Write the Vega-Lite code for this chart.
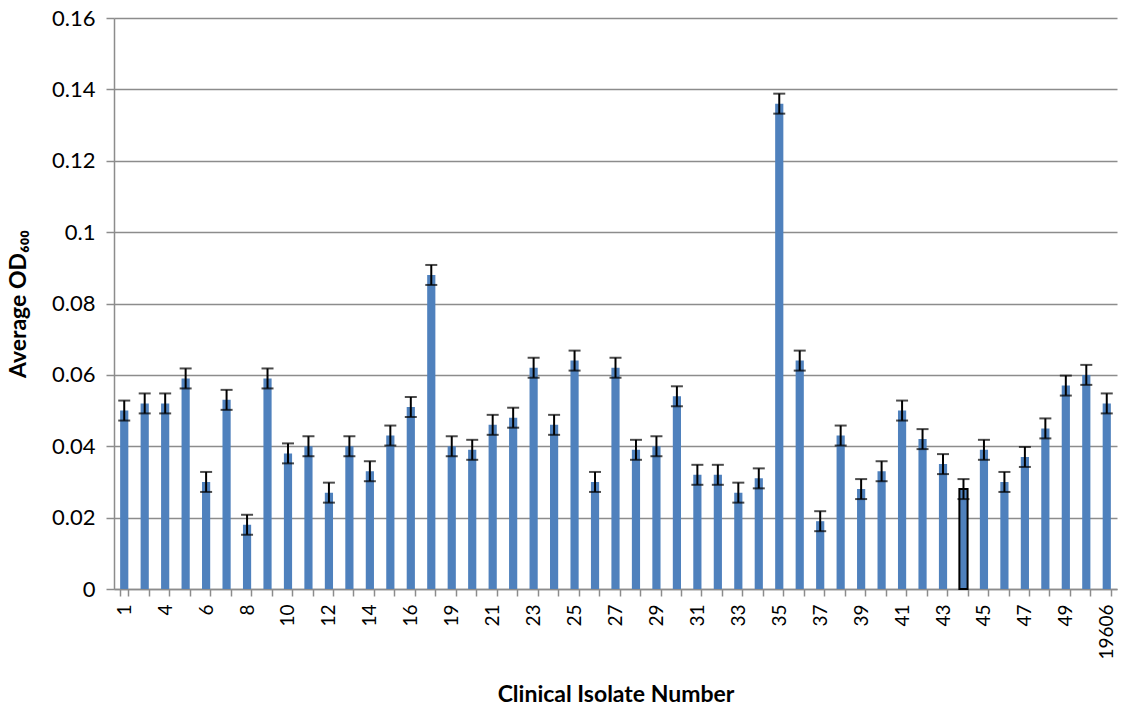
{
  "$schema": "https://vega.github.io/schema/vega-lite/v6.json",
  "width": 1003,
  "height": 571,
  "autosize": {"type": "none"},
  "padding": {"left": 114, "top": 18, "right": 8, "bottom": 123},
  "background": "white",
  "config": {"view": {"stroke": null}, "font": "Lato"},
  "data": {
    "values": [
      {"isolate": "1", "od": 0.050, "err": 0.0028},
      {"isolate": "2", "od": 0.052, "err": 0.0028},
      {"isolate": "4", "od": 0.052, "err": 0.0028},
      {"isolate": "5", "od": 0.059, "err": 0.0028},
      {"isolate": "6", "od": 0.030, "err": 0.0028},
      {"isolate": "7", "od": 0.053, "err": 0.0028},
      {"isolate": "8", "od": 0.018, "err": 0.0028},
      {"isolate": "9", "od": 0.059, "err": 0.0028},
      {"isolate": "10", "od": 0.038, "err": 0.0028},
      {"isolate": "11", "od": 0.040, "err": 0.0028},
      {"isolate": "12", "od": 0.027, "err": 0.0028},
      {"isolate": "13", "od": 0.040, "err": 0.0028},
      {"isolate": "14", "od": 0.033, "err": 0.0028},
      {"isolate": "15", "od": 0.043, "err": 0.0028},
      {"isolate": "16", "od": 0.051, "err": 0.0028},
      {"isolate": "17", "od": 0.088, "err": 0.0028},
      {"isolate": "19", "od": 0.040, "err": 0.0028},
      {"isolate": "20", "od": 0.039, "err": 0.0028},
      {"isolate": "21", "od": 0.046, "err": 0.0028},
      {"isolate": "22", "od": 0.048, "err": 0.0028},
      {"isolate": "23", "od": 0.062, "err": 0.0028},
      {"isolate": "24", "od": 0.046, "err": 0.0028},
      {"isolate": "25", "od": 0.064, "err": 0.0028},
      {"isolate": "26", "od": 0.030, "err": 0.0028},
      {"isolate": "27", "od": 0.062, "err": 0.0028},
      {"isolate": "28", "od": 0.039, "err": 0.0028},
      {"isolate": "29", "od": 0.040, "err": 0.0028},
      {"isolate": "30", "od": 0.054, "err": 0.0028},
      {"isolate": "31", "od": 0.032, "err": 0.0028},
      {"isolate": "32", "od": 0.032, "err": 0.0028},
      {"isolate": "33", "od": 0.027, "err": 0.0028},
      {"isolate": "34", "od": 0.031, "err": 0.0028},
      {"isolate": "35", "od": 0.136, "err": 0.0028},
      {"isolate": "36", "od": 0.064, "err": 0.0028},
      {"isolate": "37", "od": 0.019, "err": 0.0028},
      {"isolate": "38", "od": 0.043, "err": 0.0028},
      {"isolate": "39", "od": 0.028, "err": 0.0028},
      {"isolate": "40", "od": 0.033, "err": 0.0028},
      {"isolate": "41", "od": 0.050, "err": 0.0028},
      {"isolate": "42", "od": 0.042, "err": 0.0028},
      {"isolate": "43", "od": 0.035, "err": 0.0028},
      {"isolate": "44", "od": 0.028, "err": 0.0028},
      {"isolate": "45", "od": 0.039, "err": 0.0028},
      {"isolate": "46", "od": 0.030, "err": 0.0028},
      {"isolate": "47", "od": 0.037, "err": 0.0028},
      {"isolate": "48", "od": 0.045, "err": 0.0028},
      {"isolate": "49", "od": 0.057, "err": 0.0028},
      {"isolate": "50", "od": 0.060, "err": 0.0028},
      {"isolate": "19606", "od": 0.052, "err": 0.0028}
    ]
  },
  "encoding": {
    "x": {
      "field": "isolate",
      "type": "nominal",
      "sort": null,
      "scale": {"paddingInner": 0.6, "paddingOuter": 0.3},
      "axis": {
        "title": "Clinical Isolate Number",
        "titleFontSize": 23,
        "titleFontWeight": "bold",
        "titleColor": "black",
        "titleY": 105,
        "titleBaseline": "middle",
        "labelAngle": -90,
        "labelFontSize": 19,
        "labelColor": "black",
        "labelPadding": 8,
        "labelOverlap": false,
        "labelExpr": "indexof(['1','4','6','8','10','12','14','16','19','21','23','25','27','29','31','33','35','37','39','41','43','45','47','49','19606'], datum.value) >= 0 ? datum.label : ''",
        "tickBand": "extent",
        "tickSize": 7,
        "tickColor": "#8c8c8c",
        "tickWidth": 1.5,
        "domainColor": "#8c8c8c",
        "domainWidth": 1.5,
        "grid": false
      }
    },
    "y": {
      "field": "od",
      "type": "quantitative",
      "scale": {"domain": [0, 0.16], "nice": false, "zero": true},
      "axis": {
        "title": "Average OD₆₀₀",
        "titleFontSize": 23,
        "titleFontWeight": "bold",
        "titleColor": "black",
        "titleX": -96,
        "titleBaseline": "middle",
        "values": [0, 0.02, 0.04, 0.06, 0.08, 0.1, 0.12, 0.14, 0.16],
        "format": "~g",
        "labelFontSize": 22,
        "labelColor": "black",
        "labelPadding": 11,
        "tickSize": 8,
        "tickColor": "#8c8c8c",
        "tickWidth": 1.5,
        "domainColor": "#8c8c8c",
        "domainWidth": 1.5,
        "grid": true,
        "gridColor": "#8c8c8c",
        "gridWidth": 1.5
      }
    }
  },
  "layer": [
    {
      "mark": {"type": "bar", "color": "#4F81BD"},
      "encoding": {
        "stroke": {"condition": {"test": "datum.isolate === '44'", "value": "black"}, "value": null},
        "strokeWidth": {"value": 2}
      }
    },
    {
      "mark": {
        "type": "errorbar",
        "color": "black",
        "ticks": {"size": 12, "thickness": 2, "color": "black"},
        "rule": {"strokeWidth": 2, "color": "black"}
      },
      "encoding": {
        "yError": {"field": "err"}
      }
    }
  ]
}
